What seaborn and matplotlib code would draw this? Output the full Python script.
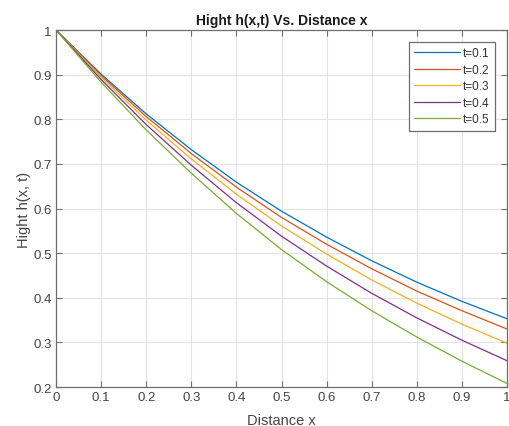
import matplotlib
matplotlib.use("Agg")
import matplotlib.pyplot as plt
import seaborn as sns
import pandas as pd

# distance samples and heights
x_values = [0.0, 0.1, 0.2, 0.3, 0.4, 0.5, 0.6, 0.7, 0.8, 0.9, 1.0]
h_t01 = [1.0, 0.901, 0.812, 0.732, 0.659, 0.594, 0.536, 0.483, 0.435, 0.392, 0.353]
h_t02 = [1.0, 0.898, 0.806, 0.723, 0.648, 0.580, 0.520, 0.465, 0.415, 0.371, 0.330]
h_t03 = [1.0, 0.894, 0.798, 0.711, 0.632, 0.561, 0.498, 0.440, 0.388, 0.341, 0.298]
h_t04 = [1.0, 0.889, 0.788, 0.697, 0.613, 0.538, 0.471, 0.410, 0.355, 0.305, 0.259]
h_t05 = [1.0, 0.883, 0.776, 0.679, 0.589, 0.508, 0.436, 0.371, 0.312, 0.258, 0.208]

series_labels = ["t=0.1", "t=0.2", "t=0.3", "t=0.4", "t=0.5"]
colors = ["#0072BD", "#D95319", "#EDB120", "#7E2F8E", "#77AC30"]

x_ticks = [0, 0.1, 0.2, 0.3, 0.4, 0.5, 0.6, 0.7, 0.8, 0.9, 1]
x_ticklabels = ["0", "0.1", "0.2", "0.3", "0.4", "0.5", "0.6", "0.7", "0.8", "0.9", "1"]
y_ticks = [0.2, 0.3, 0.4, 0.5, 0.6, 0.7, 0.8, 0.9, 1]
y_ticklabels = ["0.2", "0.3", "0.4", "0.5", "0.6", "0.7", "0.8", "0.9", "1"]

rows = []
for label, ys in zip(series_labels, [h_t01, h_t02, h_t03, h_t04, h_t05]):
    for x, y in zip(x_values, ys):
        rows.append({"x": x, "h": y, "t": label})
df = pd.DataFrame(rows)

sns.set_style("whitegrid")
plt.rcParams["font.family"] = ["Liberation Sans", "DejaVu Sans"]

fig = plt.figure(figsize=(5.1, 4.27), dpi=100)
ax = fig.add_axes([0.110, 0.0913, 0.884, 0.836])

sns.lineplot(data=df, x="x", y="h", hue="t", palette=colors, linewidth=0.9, ax=ax)

ax.set_xlim(0, 1)
ax.set_ylim(0.2, 1)
ax.set_xticks(x_ticks)
ax.set_xticklabels(x_ticklabels)
ax.set_yticks(y_ticks)
ax.set_yticklabels(y_ticklabels)

ax.grid(True, color="#e3e3e3", linewidth=0.8)
for s in ax.spines.values():
    s.set_visible(True)
    s.set_color("#6e6e6e")
    s.set_linewidth(0.9)

ax.tick_params(direction="in", length=4, width=0.8, color="#6e6e6e",
               labelsize=9.5, labelcolor="#444444", top=True, right=True,
               left=True, bottom=True, pad=3)

ax.set_title("Hight h(x,t) Vs. Distance x", fontsize=10, fontweight="bold",
             color="#1a1a1a", pad=4)
ax.set_xlabel("Distance x", fontsize=10.5, color="#444444", labelpad=7)
ax.set_ylabel("Hight h(x, t)", fontsize=10.5, color="#444444", labelpad=2)

leg = ax.legend(loc="upper right", fontsize=8.5, frameon=True, fancybox=False,
                framealpha=1, edgecolor="#6e6e6e", borderpad=0.45,
                handlelength=3.9, labelspacing=0.38, handletextpad=0.25,
                borderaxespad=0, bbox_to_anchor=(0.973, 0.966))
leg.get_frame().set_linewidth(0.9)
for line in leg.get_lines():
    line.set_linewidth(0.9)
for txt in leg.get_texts():
    txt.set_color("#333333")

fig.savefig("out.png", dpi=100)
